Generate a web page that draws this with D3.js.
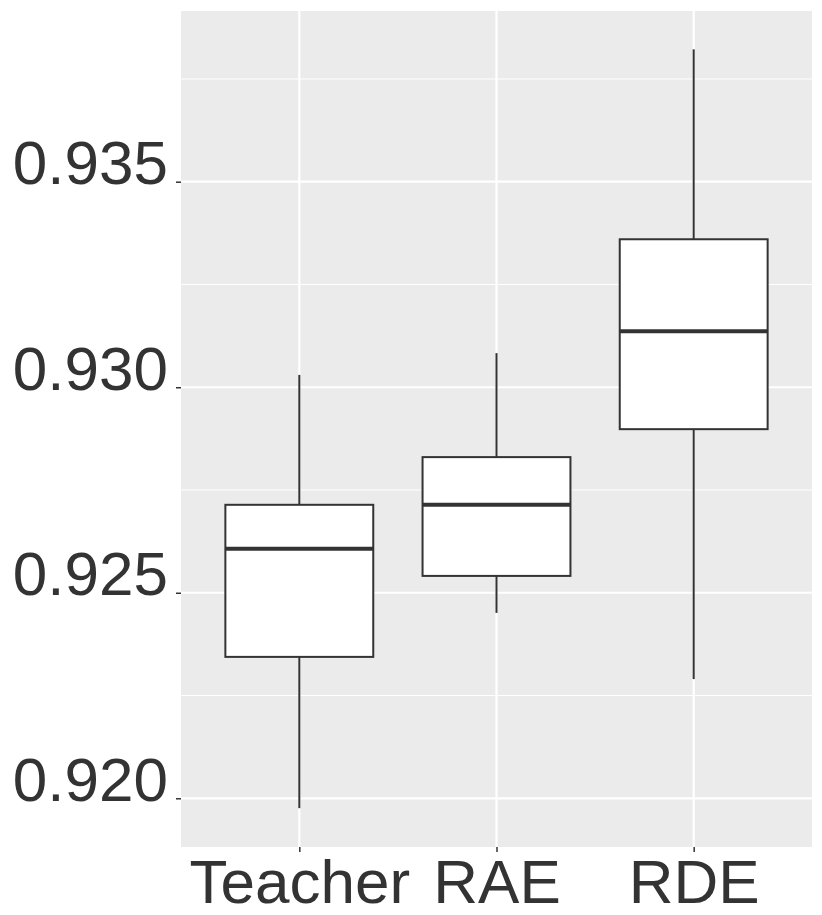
<!DOCTYPE html>
<html>
<head>
<meta charset="utf-8">
<script src="https://cdn.jsdelivr.net/npm/d3@7"></script>
<style>
  html, body { margin: 0; padding: 0; background: #fff; }
  svg text { font-family: "Liberation Sans", Arial, Helvetica, sans-serif; }
</style>
</head>
<body>
<svg id="chart"></svg>
<script>
// box stats
const groups = ["Teacher", "RAE", "RDE"];
const lowerWhisker = [0.91976, 0.92451, 0.92290];
const lowerHinge   = [0.92344, 0.92541, 0.92898];
const medians      = [0.92607, 0.92714, 0.93136];
const upperHinge   = [0.92714, 0.92830, 0.93360];
const upperWhisker = [0.93030, 0.93083, 0.93822];
const yTicks = [0.920, 0.925, 0.930, 0.935];
const yMinor = [0.9225, 0.9275, 0.9325, 0.9375];

const width = 822, height = 915;
const margin = { left: 181, right: 10, top: 11, bottom: 68 };

const svg = d3.select("#chart").attr("width", width).attr("height", height);

const x = d3.scaleLinear()
    .domain([0.4, 3.6])
    .range([margin.left, width - margin.right]);

const y = d3.scaleLinear()
    .domain([0.918815, 0.939153])
    .range([height - margin.bottom, margin.top]);

// panel background
svg.append("rect")
    .attr("x", margin.left)
    .attr("y", margin.top)
    .attr("width", width - margin.right - margin.left)
    .attr("height", height - margin.bottom - margin.top)
    .attr("fill", "#EBEBEB");

// grid lines
svg.append("g").selectAll("line")
    .data(yMinor)
    .join("line")
    .attr("x1", margin.left).attr("x2", width - margin.right)
    .attr("y1", d => y(d)).attr("y2", d => y(d))
    .attr("stroke", "#fff").attr("stroke-width", 1.1);

svg.append("g").selectAll("line")
    .data(yTicks)
    .join("line")
    .attr("x1", margin.left).attr("x2", width - margin.right)
    .attr("y1", d => y(d)).attr("y2", d => y(d))
    .attr("stroke", "#fff").attr("stroke-width", 2.2);

svg.append("g").selectAll("line")
    .data(groups)
    .join("line")
    .attr("x1", (d, i) => x(i + 1)).attr("x2", (d, i) => x(i + 1))
    .attr("y1", margin.top).attr("y2", height - margin.bottom)
    .attr("stroke", "#fff").attr("stroke-width", 2.2);

// boxes
const boxW = x(0.75) - x(0);
const boxes = svg.append("g").selectAll("g")
    .data(groups)
    .join("g");

boxes.append("line")
    .attr("x1", (d, i) => x(i + 1)).attr("x2", (d, i) => x(i + 1))
    .attr("y1", (d, i) => y(upperWhisker[i])).attr("y2", (d, i) => y(upperHinge[i]))
    .attr("stroke", "#333").attr("stroke-width", 2);

boxes.append("line")
    .attr("x1", (d, i) => x(i + 1)).attr("x2", (d, i) => x(i + 1))
    .attr("y1", (d, i) => y(lowerHinge[i])).attr("y2", (d, i) => y(lowerWhisker[i]))
    .attr("stroke", "#333").attr("stroke-width", 2);

boxes.append("rect")
    .attr("x", (d, i) => x(i + 1) - boxW / 2)
    .attr("width", boxW)
    .attr("y", (d, i) => y(upperHinge[i]))
    .attr("height", (d, i) => y(lowerHinge[i]) - y(upperHinge[i]))
    .attr("fill", "#fff")
    .attr("stroke", "#333").attr("stroke-width", 2);

boxes.append("line")
    .attr("x1", (d, i) => x(i + 1) - boxW / 2).attr("x2", (d, i) => x(i + 1) + boxW / 2)
    .attr("y1", (d, i) => y(medians[i])).attr("y2", (d, i) => y(medians[i]))
    .attr("stroke", "#333").attr("stroke-width", 4);

// axes
const yAxis = svg.append("g")
    .attr("transform", `translate(${margin.left},0)`)
    .call(d3.axisLeft(y).tickValues(yTicks).tickFormat(d3.format(".3f")).tickSize(5).tickPadding(8));

const xAxis = svg.append("g")
    .attr("transform", `translate(0,${height - margin.bottom})`)
    .call(d3.axisBottom(x).tickValues([1, 2, 3]).tickFormat((d) => groups[d - 1]).tickSize(5));

[yAxis, xAxis].forEach(a => {
    a.select(".domain").remove();
    a.selectAll(".tick line").attr("stroke", "#333").attr("stroke-width", 1.5);
    a.selectAll("text")
        .attr("fill", "#333")
        .style("font-size", "62px");
});
// labels sit with their baseline just under the tick, as in the original
yAxis.selectAll("text").attr("dy", "0.03em");
xAxis.selectAll("text").attr("y", 56).attr("dy", 0);
</script>
</body>
</html>
